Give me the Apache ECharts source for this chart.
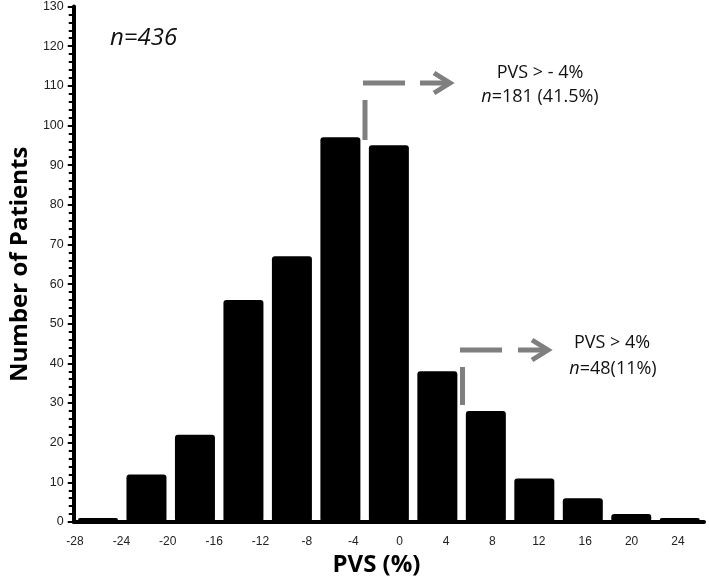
<!DOCTYPE html>
<html>
<head>
<meta charset="utf-8">
<script src="https://cdn.jsdelivr.net/npm/echarts@6/dist/echarts.min.js"></script>
<style>
html,body{margin:0;padding:0;background:#fff;}
#chart{width:709px;height:583px;}
</style>
</head>
<body>
<div id="chart"></div>
<script>
// Bins of PVS (%), 4-point wide
var binLabels = ['-28 to -24','-24 to -20','-20 to -16','-16 to -12','-12 to -8','-8 to -4','-4 to 0','0 to 4','4 to 8','8 to 12','12 to 16','16 to 20','20 to 24'];
var patientCounts = [1, 12, 22, 56, 67, 97, 95, 38, 28, 11, 6, 2, 1];
var xTickLabels = [-28, -24, -20, -16, -12, -8, -4, 0, 4, 8, 12, 16, 20, 24];
var yMin = 0, yMax = 130, yStep = 10;

var chart = echarts.init(document.getElementById('chart'), null, {renderer: 'canvas'});
var gray = '#7f7f7f';
var ff = '"Open Sans", "Liberation Sans", sans-serif';

var option = {
  animation: false,
  backgroundColor: '#fff',
  grid: [
    {left: 70, top: 5, width: 634, height: 517},
    {left: 75, top: 5, width: 603, height: 517}
  ],
  xAxis: [
    {
      type: 'category', gridIndex: 0, data: binLabels,
      axisLine: {show: true, lineStyle: {color: '#000', width: 4}},
      axisTick: {show: false}, axisLabel: {show: false}, splitLine: {show: false}
    },
    {
      type: 'value', gridIndex: 1, min: xTickLabels[0], max: xTickLabels[xTickLabels.length - 1], interval: 4,
      axisLine: {show: false}, axisTick: {show: false}, splitLine: {show: false},
      axisLabel: {show: true, margin: 14, color: '#222', fontSize: 12, fontFamily: 'Arial, "Liberation Sans", sans-serif', showMinLabel: true, showMaxLabel: true,
        customValues: xTickLabels},
      name: 'PVS (%)', nameLocation: 'middle', nameGap: 21,
      nameTextStyle: {fontSize: 24, fontWeight: 'bold', fontFamily: ff, color: '#000'}
    }
  ],
  yAxis: [
    {
      type: 'value', gridIndex: 0, min: yMin, max: yMax, interval: yStep,
      axisLine: {show: true, lineStyle: {color: '#000', width: 4}},
      axisTick: {show: true, inside: false, length: 6, lineStyle: {color: '#000', width: 2}},
      minorTick: {show: true, splitNumber: 5, length: 5, lineStyle: {color: '#000', width: 2}},
      splitLine: {show: false},
      axisLabel: {margin: 10, color: '#222', fontSize: 12.5, fontFamily: 'Arial, "Liberation Sans", sans-serif', padding: [5, 0, 0, 0]},
      name: 'Number of Patients', nameLocation: 'middle', nameGap: 38,
      nameTextStyle: {fontSize: 24, fontWeight: 'bold', fontFamily: ff, color: '#000'}
    },
    {type: 'value', gridIndex: 1, show: false, min: yMin, max: yMax}
  ],
  series: [
    {
      type: 'bar', xAxisIndex: 0, yAxisIndex: 0, data: patientCounts,
      barWidth: 40,
      itemStyle: {color: '#000', borderRadius: 3}
    }
  ],
  graphic: [
    {type: 'text', left: 110, top: 26, style: {text: 'n=436', font: 'italic 24px ' + ff, fill: '#111'}},
    // annotation 1
    {type: 'line', shape: {x1: 365, y1: 100, x2: 365, y2: 140}, style: {stroke: gray, lineWidth: 5}},
    {type: 'line', shape: {x1: 363, y1: 83, x2: 405, y2: 83}, style: {stroke: gray, lineWidth: 5}},
    {type: 'line', shape: {x1: 420, y1: 83, x2: 448, y2: 83}, style: {stroke: gray, lineWidth: 5}},
    {type: 'polyline', shape: {points: [[434, 73], [450, 83], [434, 93]]}, style: {stroke: gray, lineWidth: 5, fill: null, lineJoin: 'miter'}},
    {type: 'text', x: 540, y: 73, style: {text: 'PVS > - 4%', font: '18px ' + ff, fill: '#111', align: 'center', verticalAlign: 'middle'}},
    {type: 'text', x: 540, y: 97, style: {text: '{i|n}=181 (41.5%)', font: '18px ' + ff, fill: '#111', align: 'center', verticalAlign: 'middle',
      rich: {i: {font: 'italic 18px ' + ff, fill: '#111'}}}},
    // annotation 2
    {type: 'line', shape: {x1: 462.5, y1: 367, x2: 462.5, y2: 405}, style: {stroke: gray, lineWidth: 5}},
    {type: 'line', shape: {x1: 460, y1: 350, x2: 502, y2: 350}, style: {stroke: gray, lineWidth: 5}},
    {type: 'line', shape: {x1: 518, y1: 350, x2: 546, y2: 350}, style: {stroke: gray, lineWidth: 5}},
    {type: 'polyline', shape: {points: [[532, 340], [548, 350], [532, 360]]}, style: {stroke: gray, lineWidth: 5, fill: null, lineJoin: 'miter'}},
    {type: 'text', x: 612, y: 343, style: {text: 'PVS > 4%', font: '18px ' + ff, fill: '#111', align: 'center', verticalAlign: 'middle'}},
    {type: 'text', x: 613, y: 369, style: {text: '{i|n}=48(11%)', font: '18px ' + ff, fill: '#111', align: 'center', verticalAlign: 'middle',
      rich: {i: {font: 'italic 18px ' + ff, fill: '#111'}}}}
  ]
};
chart.setOption(option);
</script>
</body>
</html>
